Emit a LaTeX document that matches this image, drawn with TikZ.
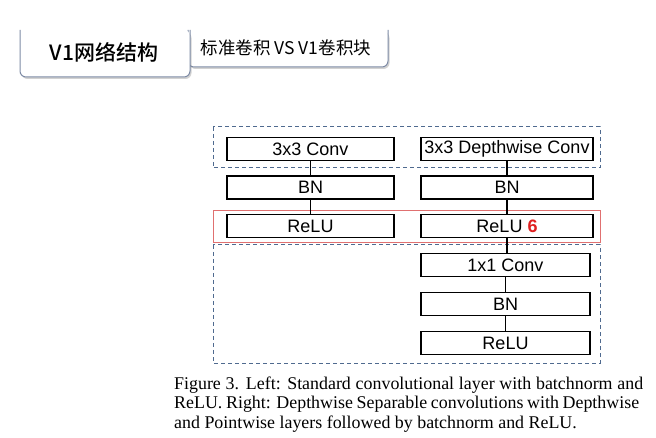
\documentclass[tikz,border=0pt]{standalone}
\usepackage{fontspec}
\setmainfont{Liberation Serif}
\newfontfamily\arialf{Liberation Sans}
\newfontfamily\cjkf{Noto Sans CJK SC}
\newfontfamily\cjkb{Noto Sans CJK SC Medium}
\usetikzlibrary{shadows}
\definecolor{tabline}{HTML}{7F8CA6}
\definecolor{dashblue}{HTML}{4F6A8F}
\definecolor{redline}{HTML}{E07070}
\definecolor{sixred}{HTML}{E02020}
\tikzset{
  layer/.style={draw=black, line width=1.8pt, minimum height=23pt, inner sep=0pt, font=\arialf\fontsize{18}{18}\selectfont},
  conn/.style={line width=1.8pt},
  groupbox/.style={draw=dashblue, line width=1pt, dash pattern=on 4pt off 3pt},
  redbox/.style={draw=redline, line width=0.9pt},
  tabfill/.style={fill=white, drop shadow={shadow xshift=1.5pt, shadow yshift=-2pt, opacity=0.35, fill=gray}},
  tabedge/.style={draw=tabline, line width=1pt, rounded corners=6pt},
  captext/.style={anchor=base west, inner sep=0pt, font=\fontsize{17.9}{19}\selectfont}
}
\begin{document}
\begin{tikzpicture}[x=1pt,y=-1pt]
\useasboundingbox[fill=white] (0,0) rectangle (656,438);
% tabs
\fill[tabfill, rounded corners=6pt] (188,30) -- (188,67) -- (388,67) -- (388,30) -- cycle;
\draw[tabedge] (188,30) -- (188,67) -- (388,67) -- (388,30);
\fill[tabfill, rounded corners=6pt] (20,30) -- (20,77) -- (190,77) -- (190,30) -- cycle;
\draw[tabedge] (20,30) -- (20,77) -- (190,77) -- (190,30);
\node[font=\cjkb\fontsize{21}{21}\selectfont, inner sep=0pt] (tabA) at (104,52) {V1网络结构};
\node[font=\cjkf\fontsize{17.5}{17.5}\selectfont, inner sep=0pt] (tabB) at (286,48) {标准卷积 VS V1卷积块};
% group boxes
\draw[groupbox] (213,127) rectangle (600,168);
\draw[redbox] (213,210) rectangle (600,242);
\draw[groupbox] (213,245) rectangle (600,363);
% left column
\node[layer, minimum width=167pt] (l1) at (310.5,149) {3x3 Conv};
\node[layer, minimum width=167pt] (l2) at (310.5,187.5) {BN};
\node[layer, minimum width=167pt] (l3) at (310.5,226) {ReLU};
% right column
\node[layer, minimum width=172pt] (r1) at (507,149) {3x3 Depthwise Conv};
\node[layer, minimum width=172pt] (r2) at (507,187.5) {BN};
\node[layer, minimum width=172pt] (r3) at (507,226) {ReLU \textcolor{sixred}{\textbf{6}}};
\node[layer, minimum width=169pt] (r4) at (505.5,265) {1x1 Conv};
\node[layer, minimum width=169pt] (r5) at (505.5,304) {BN};
\node[layer, minimum width=169pt] (r6) at (505.5,343) {ReLU};
\draw[conn] (l1) -- (l2);
\draw[conn] (l2) -- (l3);
\draw[conn] (r1) -- (r2);
\draw[conn] (r2) -- (r3);
\draw[conn] (r3.south) -- (r3.south |- r4.north);
\draw[conn] (r4) -- (r5);
\draw[conn] (r5) -- (r6);
% caption
\node[captext] (c1) at (174,389) {\makebox[469pt][s]{Figure 3. Left: Standard convolutional layer with batchnorm and}};
\node[captext] (c2) at (174,408.5) {\makebox[465pt][s]{ReLU. Right: Depthwise Separable convolutions with Depthwise}};
\node[captext] (c3) at (174,428) {and Pointwise layers followed by batchnorm and ReLU.};
\end{tikzpicture}
\end{document}
